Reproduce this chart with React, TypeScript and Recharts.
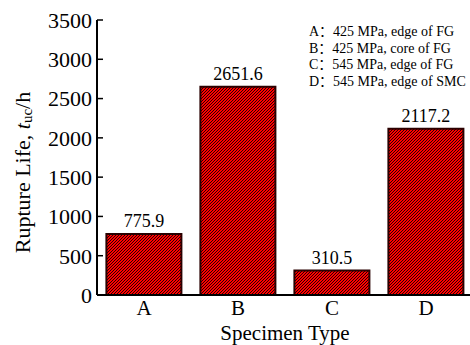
import { BarChart, Bar, XAxis, YAxis, LabelList } from "recharts";

const specimens = ["A", "B", "C", "D"];
const ruptureLife = [775.9, 2651.6, 310.5, 2117.2];
const yTicks = [0, 500, 1000, 1500, 2000, 2500, 3000, 3500];
const topTicks = [0, 1, 2, 3, 4, 5, 6, 7, 8];
const legendLines = [
  "A：425 MPa, edge of FG",
  "B：425 MPa, core of FG",
  "C：545 MPa, edge of FG",
  "D：545 MPa, edge of SMC",
];

const data = specimens.map((s, i) => ({ type: s, life: ruptureLife[i] }));

const serif = '"Liberation Serif", "Times New Roman", serif';

// rotated y title with italic t and subscript
const YLabel = ({ viewBox }: any) => {
  const cx = 22;
  const cy = viewBox.y + viewBox.height / 2 + 15;
  return (
    <text
      x={cx}
      y={cy}
      transform={`rotate(-90 ${cx} ${cy})`}
      textAnchor="middle"
      dominantBaseline="central"
      fontFamily={serif}
      fontSize={22}
      fill="#000"
    >
      Rupture Life, <tspan fontStyle="italic">t</tspan>
      <tspan fontSize={15} dy={5}>uc</tspan>
      <tspan dy={-5}>/h</tspan>
    </text>
  );
};

const XLabel = ({ viewBox }: any) => (
  <text
    x={viewBox.x + viewBox.width / 2}
    y={340}
    textAnchor="middle"
    fontFamily={serif}
    fontSize={21}
    fill="#000"
  >
    Specimen Type
  </text>
);

export default function App() {
  return (
    <div style={{ position: "absolute", left: 0, top: 0, width: 470, height: 345, overflow: "hidden", background: "#fff" }}>
      <BarChart
        width={480}
        height={345}
        data={data}
        margin={{ top: 20, right: 7, left: 0, bottom: 0 }}
        barCategoryGap="10%"
      >
        <defs>
          <pattern id="hatch" patternUnits="userSpaceOnUse" width={3} height={3}>
            <rect width={3} height={3} fill="#ff0000" />
            <path d="M-1,1 l2,-2 M0,3 l3,-3 M2,4 l2,-2" stroke="#000" strokeWidth={0.85} />
          </pattern>
        </defs>
        <XAxis
          dataKey="type"
          height={50}
          axisLine={{ stroke: "#000", strokeWidth: 2 }}
          tickLine={false}
          tickSize={0}
          tickMargin={5}
          tick={{ fill: "#000", fontSize: 21, fontFamily: serif }}
          label={<XLabel />}
        />
        <XAxis
          xAxisId="top"
          orientation="top"
          type="number"
          domain={[0, 8]}
          ticks={topTicks}
          height={0}
          axisLine={{ stroke: "#000", strokeWidth: 2 }}
          tickLine={{ stroke: "#000", strokeWidth: 1 }}
          tickSize={-5}
          tick={false}
        />
        <YAxis
          domain={[0, 3500]}
          ticks={yTicks}
          width={97}
          interval={0}
          axisLine={{ stroke: "#000", strokeWidth: 2 }}
          tickLine={{ stroke: "#000", strokeWidth: 1.5 }}
          tickSize={-6}
          tickMargin={11}
          tick={{ fill: "#000", fontSize: 22, fontFamily: serif }}
          label={<YLabel />}
        />
        <Bar dataKey="life" fill="url(#hatch)" stroke="#2a0000" strokeWidth={2} isAnimationActive={false}>
          <LabelList
            dataKey="life"
            position="top"
            offset={7}
            formatter={(v: any) => Number(v).toFixed(1)}
            style={{ fill: "#000", fontSize: 18, fontFamily: serif }}
          />
        </Bar>
      </BarChart>
      <div
        style={{
          position: "absolute",
          left: 309,
          top: 24,
          fontFamily: '"Liberation Serif", "Noto Sans CJK SC", serif',
          fontSize: 14,
          lineHeight: "16.5px",
          color: "#000",
          whiteSpace: "nowrap",
        }}
      >
        {legendLines.map((l) => (
          <div key={l}>{l}</div>
        ))}
      </div>
    </div>
  );
}
